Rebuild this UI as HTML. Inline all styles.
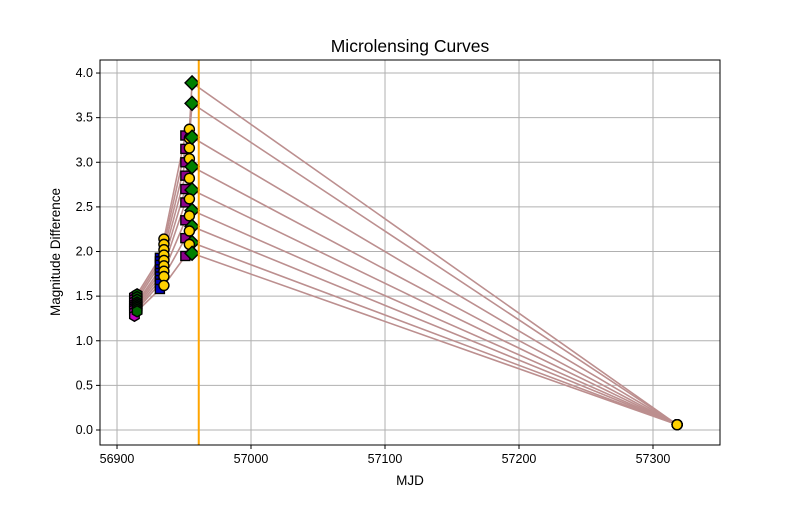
<!DOCTYPE html>
<html><head><meta charset="utf-8"><style>
body{margin:0;background:#fff;font-family:"Liberation Sans",sans-serif}
svg text{font-family:"Liberation Sans",sans-serif}
</style></head><body>
<svg id="chart" width="800" height="500" xmlns="http://www.w3.org/2000/svg">
<rect width="800" height="500" fill="#fff"/>
<g id="grid"></g><g id="series"></g><g id="axes"></g>
</svg>
<script>
const mjds = [56913, 56915, 56932, 56935, 56951, 56954, 56956, 57318];
const seriesMags = [
 [1.50, 1.52, 1.93, 2.14, 3.30, 3.37, 3.89, 0.06],
 [1.47, 1.49, 1.89, 2.08, 3.15, 3.27, 3.66, 0.06],
 [1.44, 1.46, 1.85, 2.02, 3.00, 3.16, 3.28, 0.06],
 [1.41, 1.43, 1.80, 1.96, 2.85, 3.04, 2.95, 0.06],
 [1.39, 1.41, 1.76, 1.90, 2.70, 2.82, 2.69, 0.06],
 [1.37, 1.39, 1.72, 1.84, 2.55, 2.59, 2.46, 0.06],
 [1.35, 1.37, 1.68, 1.78, 2.35, 2.40, 2.28, 0.06],
 [1.32, 1.35, 1.64, 1.72, 2.15, 2.23, 2.10, 0.06],
 [1.28, 1.33, 1.58, 1.62, 1.95, 2.08, 1.98, 0.06]
];
const markerTypes = ['hex','hex','square','circle','square','circle','diamond','circle'];
const markerColors = ['#c000c0','#006400','#0000c0','#ffd000','#8b008b','#ffd000','#008000','#ffd000'];
const xTicks = [56900, 57000, 57100, 57200, 57300];
const yTicks = [0.0, 0.5, 1.0, 1.5, 2.0, 2.5, 3.0, 3.5, 4.0];
const vlineMJD = 56961;

const L=100,R=720,T=60,B=445;
const xMin=56887.3,xMax=57350,yMin=-0.168,yMax=4.146;
const X=v=>L+(v-xMin)/(xMax-xMin)*(R-L);
const Y=v=>B-(v-yMin)/(yMax-yMin)*(B-T);
const NS='http://www.w3.org/2000/svg';
function mk(tag,attrs,parent){const e=document.createElementNS(NS,tag);for(const k in attrs)e.setAttribute(k,attrs[k]);parent.appendChild(e);return e;}
const grid=document.getElementById('grid'),ser=document.getElementById('series'),ax=document.getElementById('axes');
xTicks.forEach(t=>{const x=X(t);
 const g=mk('line',{x1:x,x2:x,y1:T,y2:B,stroke:'#b0b0b0','stroke-width':1},grid);
 
 mk('line',{x1:x,x2:x,y1:B,y2:B+4,stroke:'#000'},ax);
 const tx=mk('text',{x:x,y:B+18,'text-anchor':'middle','font-size':12.5},ax);tx.textContent=t;
 });
yTicks.forEach(t=>{const y=Y(t);
 const g=mk('line',{x1:L,x2:R,y1:y,y2:y,stroke:'#b0b0b0','stroke-width':1},grid);
 
 mk('line',{x1:L-4,x2:L,y1:y,y2:y,stroke:'#000'},ax);
 const tx=mk('text',{x:L-7,y:y+4,'text-anchor':'end','font-size':12.5},ax);tx.textContent=t.toFixed(1);
 });
function marker(type,x,y,c,p){
 let e;
 if(type==='circle')e=mk('circle',{cx:x,cy:y,r:5},p);
 else if(type==='square')e=mk('rect',{x:x-4.5,y:y-4.5,width:9,height:9},p);
 else if(type==='diamond')e=mk('polygon',{points:`${x},${y-7} ${x+7},${y} ${x},${y+7} ${x-7},${y}`},p);
 else{const pts=[];for(let i=0;i<6;i++){const a=Math.PI/3*i+Math.PI/6;pts.push((x+5.5*Math.cos(a))+','+(y+5.5*Math.sin(a)));}e=mk('polygon',{points:pts.join(' ')},p);}
 e.setAttribute('fill',c);e.setAttribute('stroke','#000');e.setAttribute('stroke-width',1.4);
 
}
seriesMags.forEach((mags,si)=>{
 const g=mk('g',{},ser);
 
 const pl=mk('polyline',{points:mags.map((m,i)=>X(mjds[i])+','+Y(m)).join(' '),fill:'none',stroke:'#bc8f8f','stroke-width':1.6},g);
 
});
seriesMags.forEach(mags=>{
 mags.forEach((m,i)=>marker(markerTypes[i],X(mjds[i]),Y(m),markerColors[i],ser));
});
const vl=mk('line',{x1:X(vlineMJD),x2:X(vlineMJD),y1:T,y2:B,stroke:'orange','stroke-width':2},ser);

const fr=mk('rect',{x:L,y:T,width:R-L,height:B-T,fill:'none',stroke:'#000','stroke-width':1},ax);

</script>
<script>
const s=document.getElementById('chart');
const NS2='http://www.w3.org/2000/svg';
function t(x,y,txt,name,extra){const e=document.createElementNS(NS2,'text');e.setAttribute('x',x);e.setAttribute('y',y);e.setAttribute('text-anchor','middle');for(const k in extra)e.setAttribute(k,extra[k]);e.textContent=txt;


s.appendChild(e);}
t(410,52,'Microlensing Curves','chart-title',{'font-size':17.5});
t(410,485,'MJD','x-axis-title',{'font-size':13.5});
t(0,0,'Magnitude Difference','y-axis-title',{'font-size':13.5,transform:'translate(60,252) rotate(-90)'});
</script>
</body></html>
